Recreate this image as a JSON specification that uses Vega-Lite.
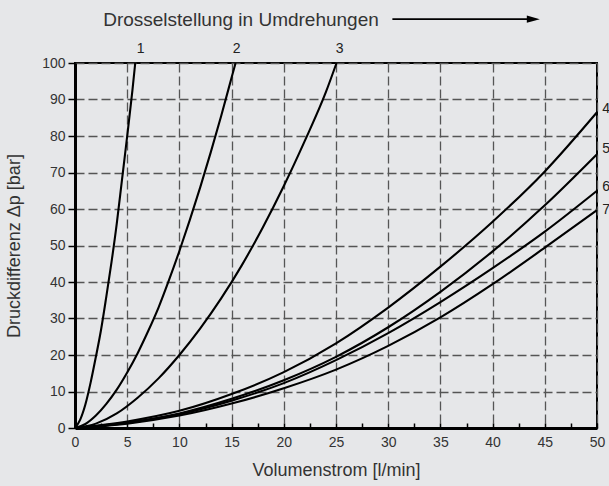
{
  "$schema": "https://vega.github.io/schema/vega-lite/v6.json",
  "width": 522,
  "height": 365,
  "autosize": {"type": "none"},
  "padding": {"left": 75, "top": 63, "right": 12, "bottom": 58},
  "background": "#e6e7e9",
  "config": {
    "font": "Liberation Sans",
    "view": {"stroke": "#000000", "strokeWidth": 2, "fill": "#e6e7e9"}
  },
  "datasets": {
    "curves": [
      {"c": "1", "q": 0, "dp": 0}, {"c": "1", "q": 0.5, "dp": 2.3}, {"c": "1", "q": 1, "dp": 6.5}, {"c": "1", "q": 1.5, "dp": 12.5},
      {"c": "1", "q": 2, "dp": 19.5}, {"c": "1", "q": 2.5, "dp": 27}, {"c": "1", "q": 3, "dp": 36}, {"c": "1", "q": 3.5, "dp": 45.5},
      {"c": "1", "q": 4, "dp": 56}, {"c": "1", "q": 4.5, "dp": 68}, {"c": "1", "q": 5, "dp": 80}, {"c": "1", "q": 5.5, "dp": 92.5}, {"c": "1", "q": 5.77, "dp": 100},
      {"c": "2", "q": 0, "dp": 0}, {"c": "2", "q": 1, "dp": 1.1}, {"c": "2", "q": 2, "dp": 3.4}, {"c": "2", "q": 3, "dp": 6.6},
      {"c": "2", "q": 4, "dp": 10.5}, {"c": "2", "q": 5, "dp": 15.2}, {"c": "2", "q": 6, "dp": 20.5}, {"c": "2", "q": 7, "dp": 26.5},
      {"c": "2", "q": 8, "dp": 33}, {"c": "2", "q": 9, "dp": 40.5}, {"c": "2", "q": 10, "dp": 48.5}, {"c": "2", "q": 11, "dp": 57},
      {"c": "2", "q": 12, "dp": 66}, {"c": "2", "q": 13, "dp": 75.5}, {"c": "2", "q": 14, "dp": 85.5}, {"c": "2", "q": 15, "dp": 96}, {"c": "2", "q": 15.38, "dp": 100},
      {"c": "3", "q": 0, "dp": 0}, {"c": "3", "q": 2, "dp": 1.2}, {"c": "3", "q": 4, "dp": 4}, {"c": "3", "q": 6, "dp": 8.3},
      {"c": "3", "q": 8, "dp": 13.6}, {"c": "3", "q": 10, "dp": 20}, {"c": "3", "q": 12, "dp": 27.3}, {"c": "3", "q": 14, "dp": 35.5},
      {"c": "3", "q": 16, "dp": 44.7}, {"c": "3", "q": 18, "dp": 55}, {"c": "3", "q": 20, "dp": 66.3}, {"c": "3", "q": 22, "dp": 78.6},
      {"c": "3", "q": 24, "dp": 91.8}, {"c": "3", "q": 25.05, "dp": 100},
      {"c": "4", "q": 0, "dp": 0}, {"c": "4", "q": 5, "dp": 1.8}, {"c": "4", "q": 10, "dp": 4.7}, {"c": "4", "q": 15, "dp": 9.3},
      {"c": "4", "q": 20, "dp": 15.3}, {"c": "4", "q": 25, "dp": 23.2}, {"c": "4", "q": 30, "dp": 33}, {"c": "4", "q": 35, "dp": 44.2},
      {"c": "4", "q": 40, "dp": 56.5}, {"c": "4", "q": 45, "dp": 70.3}, {"c": "4", "q": 50, "dp": 86.5},
      {"c": "5", "q": 0, "dp": 0}, {"c": "5", "q": 5, "dp": 1.5}, {"c": "5", "q": 10, "dp": 4}, {"c": "5", "q": 15, "dp": 8},
      {"c": "5", "q": 20, "dp": 13.1}, {"c": "5", "q": 25, "dp": 19.5}, {"c": "5", "q": 30, "dp": 27.6}, {"c": "5", "q": 35, "dp": 37.3},
      {"c": "5", "q": 40, "dp": 48.4}, {"c": "5", "q": 45, "dp": 61}, {"c": "5", "q": 50, "dp": 75},
      {"c": "6", "q": 0, "dp": 0}, {"c": "6", "q": 5, "dp": 1.4}, {"c": "6", "q": 10, "dp": 3.8}, {"c": "6", "q": 15, "dp": 7.5},
      {"c": "6", "q": 20, "dp": 12.3}, {"c": "6", "q": 25, "dp": 18.6}, {"c": "6", "q": 30, "dp": 26}, {"c": "6", "q": 35, "dp": 34.5},
      {"c": "6", "q": 40, "dp": 43.8}, {"c": "6", "q": 45, "dp": 53.8}, {"c": "6", "q": 50, "dp": 65},
      {"c": "7", "q": 0, "dp": 0}, {"c": "7", "q": 5, "dp": 1.2}, {"c": "7", "q": 10, "dp": 3.4}, {"c": "7", "q": 15, "dp": 6.7},
      {"c": "7", "q": 20, "dp": 10.9}, {"c": "7", "q": 25, "dp": 16}, {"c": "7", "q": 30, "dp": 22.5}, {"c": "7", "q": 35, "dp": 30.3},
      {"c": "7", "q": 40, "dp": 39.4}, {"c": "7", "q": 45, "dp": 49.4}, {"c": "7", "q": 50, "dp": 59.7}
    ],
    "topLabels": [
      {"t": "1", "q": 6.28, "dp": 103.8},
      {"t": "2", "q": 15.48, "dp": 103.8},
      {"t": "3", "q": 25.35, "dp": 103.8}
    ],
    "rightLabels": [
      {"t": "4", "q": 50.5, "dp": 87.4},
      {"t": "5", "q": 50.5, "dp": 76.4},
      {"t": "6", "q": 50.5, "dp": 65.9},
      {"t": "7", "q": 50.5, "dp": 59.7}
    ],
    "heading": [
      {"t": "Drosselstellung in Umdrehungen", "q": 15.9, "dp": 110.1}
    ],
    "arrow": [
      {"q": 30.4, "q2": 43.3, "dp": 112.0}
    ],
    "arrowHead": [
      {"q": 43.9, "dp": 112.0}
    ]
  },
  "encoding": {
    "x": {
      "field": "q", "type": "quantitative",
      "scale": {"domain": [0, 50], "nice": false},
      "axis": {
        "values": [0, 2.5, 5, 7.5, 10, 12.5, 15, 17.5, 20, 22.5, 25, 27.5, 30, 32.5, 35, 37.5, 40, 42.5, 45, 47.5, 50],
        "labelExpr": "datum.value % 5 === 0 ? datum.label : ''",
        "labelOverlap": false,
        "grid": true,
        "gridOpacity": {"condition": {"test": "datum.value % 5 !== 0 || datum.value === 0", "value": 0}, "value": 1},
        "gridColor": "#555555", "gridDash": [9, 4], "gridWidth": 1.3,
        "tickSize": -5, "tickColor": "#000000", "tickWidth": 1.5,
        "domainColor": "#000000", "domainWidth": 3,
        "labelFontSize": 14, "labelColor": "#333333", "labelPadding": 12, "labelFlush": false,
        "title": "Volumenstrom [l/min]", "titleFontSize": 18, "titleFontWeight": "normal",
        "titleColor": "#333333", "titlePadding": 12
      }
    },
    "y": {
      "field": "dp", "type": "quantitative",
      "scale": {"domain": [0, 100], "nice": false},
      "axis": {
        "values": [0, 10, 20, 30, 40, 50, 60, 70, 80, 90, 100],
        "labelOverlap": false,
        "grid": true,
        "gridOpacity": {"condition": {"test": "datum.value === 0", "value": 0}, "value": 1},
        "gridColor": "#555555", "gridDash": [9, 4], "gridWidth": 1.3,
        "tickSize": 7, "tickColor": "#000000", "tickWidth": 1.5,
        "domainColor": "#000000", "domainWidth": 3,
        "labelFontSize": 14, "labelColor": "#333333", "labelPadding": 3, "labelFlush": false,
        "title": "Druckdifferenz Δp [bar]", "titleFontSize": 18, "titleFontWeight": "normal",
        "titleColor": "#333333", "titlePadding": 18
      }
    }
  },
  "layer": [
    {
      "data": {"name": "curves"},
      "mark": {"type": "line", "color": "#000000", "strokeWidth": 2.1, "interpolate": "monotone"},
      "encoding": {
        "detail": {"field": "c", "type": "nominal"}
      }
    },
    {
      "data": {"name": "topLabels"},
      "mark": {"type": "text", "fontSize": 14, "color": "#222222", "baseline": "middle", "align": "center"},
      "encoding": {
        "text": {"field": "t"}
      }
    },
    {
      "data": {"name": "rightLabels"},
      "mark": {"type": "text", "fontSize": 14, "color": "#222222", "baseline": "middle", "align": "left"},
      "encoding": {
        "text": {"field": "t"}
      }
    },
    {
      "data": {"name": "heading"},
      "mark": {"type": "text", "fontSize": 19, "color": "#333333", "baseline": "alphabetic", "align": "center"},
      "encoding": {
        "text": {"field": "t"}
      }
    },
    {
      "data": {"name": "arrow"},
      "mark": {"type": "rule", "color": "#000000", "strokeWidth": 1.8},
      "encoding": {
        "x2": {"field": "q2"}
      }
    },
    {
      "data": {"name": "arrowHead"},
      "mark": {"type": "point", "shape": "M-1,-0.56L1,0L-1,0.56Z", "filled": true, "color": "#000000", "opacity": 1, "size": 169, "strokeWidth": 0},
      "encoding": {}
    }
  ]
}
